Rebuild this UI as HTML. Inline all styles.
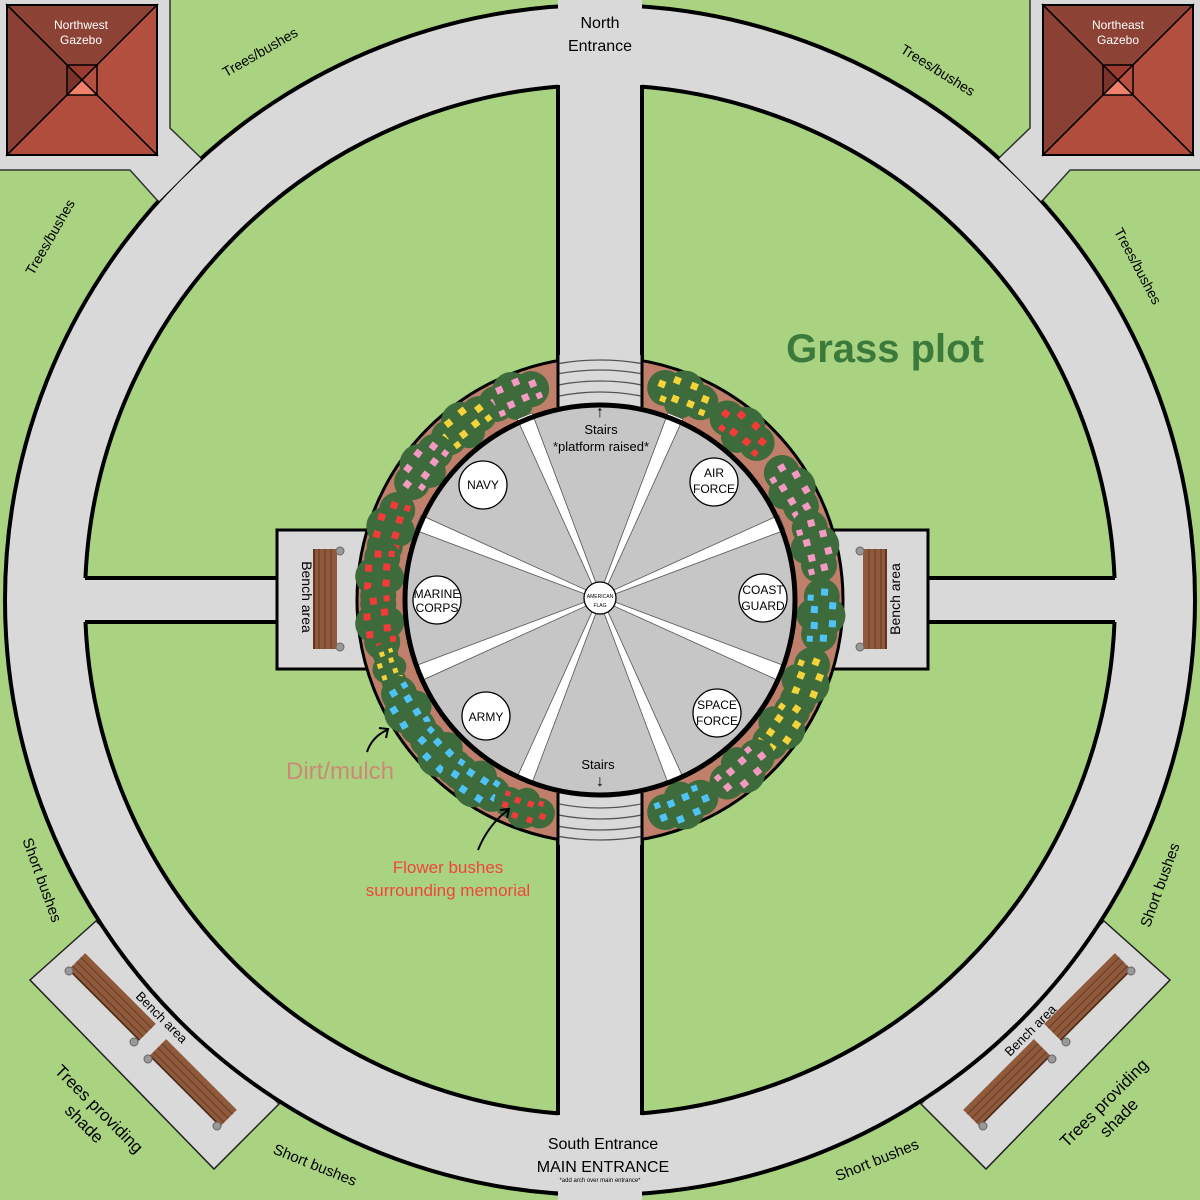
<!DOCTYPE html>
<html><head><meta charset="utf-8"><style>
html,body{margin:0;padding:0;background:#a9d281}
svg{display:block;font-family:"Liberation Sans",sans-serif}
</style></head><body>
<svg width="1200" height="1200" viewBox="0 0 1200 1200" xmlns="http://www.w3.org/2000/svg">
<defs>
<g id="bush">
<circle cx="-19" cy="0" r="18" fill="#3e6b3b"/>
<circle cx="0" cy="-5" r="20" fill="#3e6b3b"/>
<circle cx="19" cy="0" r="18" fill="#3e6b3b"/>
<circle cx="0" cy="8" r="16" fill="#3e6b3b"/>
<rect x="-27" y="-6" width="7" height="7"/><rect x="-14" y="-15" width="7" height="7"/>
<rect x="-9" y="3" width="7" height="7"/><rect x="4" y="-16" width="7" height="7"/>
<rect x="7" y="2" width="7" height="7"/><rect x="19" y="-8" width="7" height="7"/>
<rect x="21" y="6" width="6" height="6"/><rect x="-20" y="8" width="6" height="6"/>
</g>
<polygon id="wedge" points="0,-14 -2,-14 -8,-197 8,-197 2,-14" fill="#fff" stroke="#555" stroke-width="0.8"/>
<clipPath id="stc"><rect x="558" y="355" width="84" height="52"/><rect x="558" y="793" width="84" height="52"/></clipPath>
<g id="bench">
<rect x="-50" y="-12" width="100" height="24" fill="#8f5a3c"/>
<line x1="-50" y1="-6" x2="50" y2="-6" stroke="#6b3f28" stroke-width="1.2"/>
<line x1="-50" y1="0" x2="50" y2="0" stroke="#6b3f28" stroke-width="1.2"/>
<line x1="-50" y1="6" x2="50" y2="6" stroke="#6b3f28" stroke-width="1.2"/>
<line x1="-50" y1="11" x2="50" y2="11" stroke="#4a2a1a" stroke-width="1.5"/>
</g>
</defs>
<rect width="1200" height="1200" fill="#a9d281"/>
<polygon points="0,0 170,0 170,128 200,157 179,179 157,200 130,170 0,170" fill="#d9d9d9"/>
<polygon points="1200,0 1030,0 1030,128 1000,157 1021,179 1043,200 1070,170 1200,170" fill="#d9d9d9"/>
<polygon points="96,921 30,980 214,1169 279,1104" fill="#d9d9d9" stroke="#222" stroke-width="1.5"/>
<polygon points="1104,921 1170,980 986,1169 921,1104" fill="#d9d9d9" stroke="#222" stroke-width="1.5"/>
<circle cx="600" cy="600" r="555" fill="none" stroke="#d9d9d9" stroke-width="80"/>
<circle cx="600" cy="600" r="515" fill="none" stroke="#000" stroke-width="4"/>
<circle cx="600" cy="600" r="595" fill="none" stroke="#000" stroke-width="4"/>
<rect x="558" y="0" width="84" height="1200" fill="#d9d9d9"/>
<rect x="80" y="578" width="1040" height="44" fill="#d9d9d9"/>
<polygon points="171,130 201,159 159,201 130,171" fill="#d9d9d9"/>
<polygon points="1029,130 999,159 1041,201 1070,171" fill="#d9d9d9"/>
<polyline points="170,0 170,128 200,157" fill="none" stroke="#333" stroke-width="1.5"/>
<polyline points="0,170 130,170 157,200" fill="none" stroke="#333" stroke-width="1.5"/>
<polyline points="1030,0 1030,128 1000,157" fill="none" stroke="#333" stroke-width="1.5"/>
<polyline points="1200,170 1070,170 1043,200" fill="none" stroke="#333" stroke-width="1.5"/>
<g stroke="#000" stroke-width="4">
<line x1="558" y1="85" x2="558" y2="362"/><line x1="642" y1="85" x2="642" y2="362"/>
<line x1="558" y1="838" x2="558" y2="1115"/><line x1="642" y1="838" x2="642" y2="1115"/>
<line x1="85" y1="578" x2="278" y2="578"/><line x1="85" y1="622" x2="278" y2="622"/>
<line x1="927" y1="578" x2="1115" y2="578"/><line x1="927" y1="622" x2="1115" y2="622"/>
</g>
<rect x="277" y="530" width="95" height="139" fill="#d9d9d9" stroke="#000" stroke-width="3"/>
<rect x="828" y="530" width="100" height="139" fill="#d9d9d9" stroke="#000" stroke-width="3"/>
<g transform="translate(325,599) rotate(90)"><use href="#bench"/></g>
<g transform="translate(875,599) rotate(-90)"><use href="#bench"/></g>
<g fill="#999" stroke="#666"><circle cx="340" cy="551" r="4"/><circle cx="340" cy="647" r="4"/><circle cx="860" cy="551" r="4"/><circle cx="860" cy="647" r="4"/></g>
<text x="302" y="597" font-size="14" text-anchor="middle" transform="rotate(90 302 597)">Bench area</text>
<text x="900" y="599" font-size="14" text-anchor="middle" transform="rotate(-90 900 599)">Bench area</text>
<circle cx="600" cy="600" r="243" fill="#c07f6a" stroke="#000" stroke-width="3"/>
<rect x="558" y="355" width="84" height="52" fill="#d9d9d9"/>
<rect x="558" y="793" width="84" height="52" fill="#d9d9d9"/>
<g clip-path="url(#stc)" fill="none" stroke="#555" stroke-width="1.3">
<circle cx="600" cy="600" r="208"/><circle cx="600" cy="600" r="219"/><circle cx="600" cy="600" r="230"/><circle cx="600" cy="600" r="240"/>
</g>
<g stroke="#000" stroke-width="3"><line x1="558" y1="355" x2="558" y2="407"/><line x1="642" y1="355" x2="642" y2="407"/><line x1="558" y1="793" x2="558" y2="845"/><line x1="642" y1="793" x2="642" y2="845"/></g>
<g transform="translate(600,600)">
<use href="#bush" fill="#f49ac2" transform="rotate(247) translate(221,0) rotate(90)"/>
<use href="#bush" fill="#f5d33a" transform="rotate(232) translate(221,0) rotate(90)"/>
<use href="#bush" fill="#f49ac2" transform="rotate(217) translate(221,0) rotate(90)"/>
<use href="#bush" fill="#f43a3a" transform="rotate(199) translate(221,0) rotate(90)"/>
<use href="#bush" fill="#f43a3a" transform="rotate(186) translate(221,0) rotate(90)"/>
<use href="#bush" fill="#f43a3a" transform="rotate(174) translate(221,0) rotate(90)"/>
<use href="#bush" fill="#f5d33a" transform="rotate(162) translate(221,0) rotate(90) scale(0.7)"/>
<use href="#bush" fill="#4fc3f7" transform="rotate(150) translate(221,0) rotate(90)"/>
<use href="#bush" fill="#4fc3f7" transform="rotate(136) translate(221,0) rotate(90)"/>
<use href="#bush" fill="#4fc3f7" transform="rotate(124) translate(221,0) rotate(90)"/>
<use href="#bush" fill="#f43a3a" transform="rotate(110) translate(221,0) rotate(90) scale(0.85)"/>
<use href="#bush" fill="#f5d33a" transform="rotate(292) translate(221,0) rotate(90)"/>
<use href="#bush" fill="#f43a3a" transform="rotate(310) translate(221,0) rotate(90)"/>
<use href="#bush" fill="#f49ac2" transform="rotate(330) translate(221,0) rotate(90)"/>
<use href="#bush" fill="#f49ac2" transform="rotate(346) translate(221,0) rotate(90)"/>
<use href="#bush" fill="#4fc3f7" transform="rotate(4) translate(221,0) rotate(90)"/>
<use href="#bush" fill="#f5d33a" transform="rotate(22) translate(221,0) rotate(90)"/>
<use href="#bush" fill="#f5d33a" transform="rotate(35) translate(221,0) rotate(90)"/>
<use href="#bush" fill="#f49ac2" transform="rotate(50) translate(221,0) rotate(90)"/>
<use href="#bush" fill="#4fc3f7" transform="rotate(68) translate(221,0) rotate(90)"/>
</g>
<circle cx="600" cy="600" r="195" fill="#c6c6c6"/>
<g transform="translate(600,598)">
<use href="#wedge" transform="rotate(22.5)"/><use href="#wedge" transform="rotate(-22.5)"/>
<use href="#wedge" transform="rotate(67.5)"/><use href="#wedge" transform="rotate(-67.5)"/>
<use href="#wedge" transform="rotate(112.5)"/><use href="#wedge" transform="rotate(-112.5)"/>
<use href="#wedge" transform="rotate(157.5)"/><use href="#wedge" transform="rotate(-157.5)"/>
</g>
<circle cx="600" cy="600" r="195" fill="none" stroke="#000" stroke-width="5"/>
<g fill="#fff" stroke="#000" stroke-width="1.3">
<circle cx="483" cy="485" r="24"/><circle cx="714" cy="482" r="24"/>
<circle cx="437" cy="600" r="24"/><circle cx="763" cy="598" r="24"/>
<circle cx="486" cy="716" r="24"/><circle cx="717" cy="713" r="24"/>
<circle cx="600" cy="598" r="16"/>
</g>
<g font-size="12" text-anchor="middle" fill="#000">
<text x="483" y="489">NAVY</text>
<text x="714" y="477">AIR</text><text x="714" y="493">FORCE</text>
<text x="437" y="598">MARINE</text><text x="437" y="612">CORPS</text>
<text x="763" y="594">COAST</text><text x="763" y="610">GUARD</text>
<text x="486" y="721">ARMY</text>
<text x="717" y="709">SPACE</text><text x="717" y="725">FORCE</text>
<text x="600" y="598" font-size="5">AMERICAN</text><text x="600" y="607" font-size="5">FLAG</text>
<text x="601" y="434" font-size="13">Stairs</text><text x="601" y="451" font-size="13">*platform raised*</text>
<text x="598" y="769" font-size="13">Stairs</text>
<text x="600" y="417" font-size="16">↑</text>
<text x="600" y="786" font-size="16">↓</text>
</g>
<g stroke="#000" stroke-width="1.5">
<polygon points="7,5 157,5 82,80" fill="#8d4236"/><polygon points="7,5 7,155 82,80" fill="#8a4034"/>
<polygon points="157,5 157,155 82,80" fill="#b24f3e"/><polygon points="7,155 157,155 82,80" fill="#b04d3d"/>
<polygon points="67,65 97,65 82,80" fill="#9b3a2e"/><polygon points="67,65 67,95 82,80" fill="#7a3328"/>
<polygon points="97,65 97,95 82,80" fill="#b55040"/><polygon points="67,95 97,95 82,80" fill="#f0806a"/>
<rect x="7" y="5" width="150" height="150" fill="none" stroke-width="2"/>
<polygon points="1043,5 1193,5 1118,80" fill="#8d4236"/><polygon points="1043,5 1043,155 1118,80" fill="#8a4034"/>
<polygon points="1193,5 1193,155 1118,80" fill="#b24f3e"/><polygon points="1043,155 1193,155 1118,80" fill="#b04d3d"/>
<polygon points="1103,65 1133,65 1118,80" fill="#9b3a2e"/><polygon points="1103,65 1103,95 1118,80" fill="#7a3328"/>
<polygon points="1133,65 1133,95 1118,80" fill="#b55040"/><polygon points="1103,95 1133,95 1118,80" fill="#f0806a"/>
<rect x="1043" y="5" width="150" height="150" fill="none" stroke-width="2"/>
</g>
<g fill="#fff" font-size="12" text-anchor="middle">
<text x="81" y="29">Northwest</text><text x="81" y="44">Gazebo</text>
<text x="1118" y="29">Northeast</text><text x="1118" y="44">Gazebo</text>
</g>
<g transform="translate(112,997) rotate(45)"><use href="#bench"/></g>
<g transform="translate(193,1083) rotate(45)"><use href="#bench"/></g>
<g transform="translate(1088,997) rotate(-45)"><use href="#bench"/></g>
<g transform="translate(1007,1083) rotate(-45)"><use href="#bench"/></g>
<g fill="#999" stroke="#666">
<circle cx="69" cy="971" r="4"/><circle cx="134" cy="1042" r="4"/><circle cx="148" cy="1059" r="4"/><circle cx="217" cy="1126" r="4"/>
<circle cx="1131" cy="971" r="4"/><circle cx="1066" cy="1042" r="4"/><circle cx="1052" cy="1059" r="4"/><circle cx="983" cy="1126" r="4"/>
</g>
<g font-size="15" fill="#000" text-anchor="middle">
<text x="600" y="28" font-size="16">North</text><text x="600" y="51" font-size="16">Entrance</text>
<text x="603" y="1149" font-size="16">South Entrance</text>
<text x="603" y="1172" font-size="16">MAIN ENTRANCE</text>
<text x="600" y="1182" font-size="6">*add arch over main entrance*</text>
<text x="260" y="57" font-size="14" transform="rotate(-30 260 52)">Trees/bushes</text>
<text x="50" y="242" font-size="14" transform="rotate(-60 50 237)">Trees/bushes</text>
<text x="938" y="75" font-size="14" transform="rotate(32 938 70)">Trees/bushes</text>
<text x="1138" y="271" font-size="14" transform="rotate(62 1138 266)">Trees/bushes</text>
<text x="42" y="885" transform="rotate(70 42 880)">Short bushes</text>
<text x="315" y="1170" transform="rotate(22 315 1165)">Short bushes</text>
<text x="877" y="1165" transform="rotate(-22 877 1160)">Short bushes</text>
<text x="1160" y="890" transform="rotate(-70 1160 885)">Short bushes</text>
<text x="162" y="1022" font-size="13" transform="rotate(45 162 1017)">Bench area</text>
<text x="1030" y="1035" font-size="13" transform="rotate(-45 1030 1030)">Bench area</text>
<g transform="translate(95,1113) rotate(45)"><text x="0" y="0" font-size="17">Trees providing</text><text x="0" y="21" font-size="17">shade</text></g>
<g transform="translate(1108,1107) rotate(-45)"><text x="0" y="0" font-size="17">Trees providing</text><text x="0" y="21" font-size="17">shade</text></g>
<text x="885" y="362" font-size="40" font-weight="bold" fill="#3b7a3b">Grass plot</text>
<text x="340" y="779" font-size="24" fill="#cc8a76">Dirt/mulch</text>
<text x="448" y="873" font-size="17" fill="#f0463a">Flower bushes</text>
<text x="448" y="896" font-size="17" fill="#f0463a">surrounding memorial</text>
</g>
<g fill="none" stroke="#000" stroke-width="2">
<path d="M367,752 Q372,737 387,730"/><path d="M379,728 L388,729 L386,738"/>
<path d="M478,850 Q488,825 508,810"/><path d="M500,810 L509,809 L507,818"/>
</g>
</svg>
</body></html>
